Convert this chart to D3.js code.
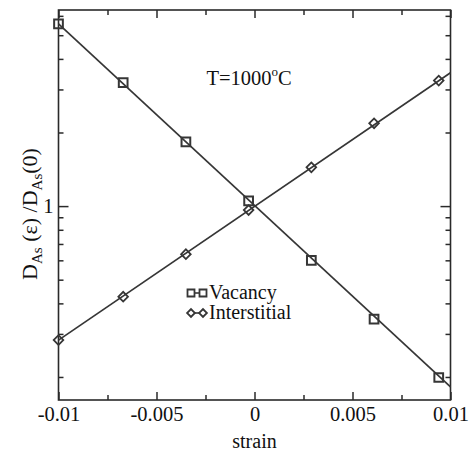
<!DOCTYPE html>
<html>
<head>
<meta charset="utf-8">
<script src="https://cdn.jsdelivr.net/npm/d3@7"></script>
</head>
<body style="margin:0; background:#ffffff">
<script>
// data
var strain = [-0.01, -0.0067, -0.0035, -0.0003, 0.0029, 0.0061, 0.0094];
var vacancy = [5.56, 3.20, 1.83, 1.05, 0.60, 0.345, 0.199];
var interstitial = [0.283, 0.426, 0.636, 0.963, 1.44, 2.18, 3.26];

// fitted straight lines (end values)
var fitStrain = [-0.01, 0.01];
var vacancyFit = [5.56, 0.182];
var interstitialFit = [0.283, 3.51];

var xTickValues = [-0.01, -0.005, 0, 0.005, 0.01];
var xTickLabels = ["-0.01", "-0.005", "0", "0.005", "0.01"];
var xMinorTicks = [-0.0075, -0.0025, 0.0025, 0.0075];
var yMajorTicks = [1];
var yTickLabels = ["1"];
var yMinorTicks = [0.2, 0.3, 0.4, 0.5, 0.6, 0.7, 0.8, 0.9, 2, 3, 4, 5, 6];

var seriesNames = ["Vacancy", "Interstitial"];

var WIDTH = 471, HEIGHT = 455;
var LINE_COLOR = "#363636";
var AXIS_COLOR = "#2a2a2a";
var TEXT_COLOR = "#111111";
var SERIF = "'Liberation Serif'";

var svg = d3.select("body").append("svg")
            .attr("width", WIDTH)
            .attr("height", HEIGHT);

svg.append("rect")
   .attr("width", WIDTH)
   .attr("height", HEIGHT)
   .style("fill", "#ffffff");

var x = d3.scaleLinear().domain([-0.01, 0.01]).range([58.5, 450.5]);
var y = d3.scaleLog().domain([0.161, 6.34]).range([400, 10]);

// minor / mirrored ticks
svg.append("g").attr("transform", "translate(0,400)")
   .call(d3.axisBottom(x).tickValues(xMinorTicks).tickSizeInner(-5).tickSizeOuter(0).tickFormat(""));
svg.append("g").attr("transform", "translate(0,10)")
   .call(d3.axisTop(x).tickValues(xMinorTicks).tickSizeInner(-5).tickSizeOuter(0).tickFormat(""));
svg.append("g").attr("transform", "translate(0,10)")
   .call(d3.axisTop(x).tickValues(xTickValues).tickSizeInner(-8).tickSizeOuter(0).tickFormat(""));
svg.append("g").attr("transform", "translate(58.5,0)")
   .call(d3.axisLeft(y).tickValues(yMinorTicks).tickSizeInner(-5).tickSizeOuter(0).tickFormat(""));
svg.append("g").attr("transform", "translate(450.5,0)")
   .call(d3.axisRight(y).tickValues(yMinorTicks).tickSizeInner(-5).tickSizeOuter(0).tickFormat(""));
svg.append("g").attr("transform", "translate(450.5,0)")
   .call(d3.axisRight(y).tickValues(yMajorTicks).tickSizeInner(-10).tickSizeOuter(0).tickFormat(""));

// labelled axes
svg.append("g").attr("transform", "translate(0,400)")
   .call(d3.axisBottom(x)
           .tickValues(xTickValues)
           .tickSizeInner(-8)
           .tickSizeOuter(0)
           .tickPadding(6)
           .tickFormat(function(d, i) { return xTickLabels[i]; }));

svg.append("g").attr("transform", "translate(58.5,0)")
   .call(d3.axisLeft(y)
           .tickValues(yMajorTicks)
           .tickSizeInner(-10)
           .tickSizeOuter(0)
           .tickPadding(5)
           .tickFormat(function(d, i) { return yTickLabels[i]; }));

svg.selectAll(".tick line").style("stroke", AXIS_COLOR).style("stroke-width", 1.5);
svg.selectAll(".domain").remove();
svg.selectAll(".tick text")
   .style("font-family", SERIF)
   .style("font-size", "20.5px")
   .style("fill", TEXT_COLOR);

// frame
svg.append("rect")
   .attr("x", x.range()[0])
   .attr("y", y.range()[1])
   .attr("width", x.range()[1] - x.range()[0])
   .attr("height", y.range()[0] - y.range()[1])
   .style("fill", "none")
   .style("stroke", AXIS_COLOR)
   .style("stroke-width", 1.6);

// lines
var line = d3.line()
             .x(function(d) { return x(d[0]); })
             .y(function(d) { return y(d[1]); });

svg.append("path")
   .datum(d3.zip(fitStrain, vacancyFit))
   .attr("d", line)
   .style("fill", "none")
   .style("stroke", LINE_COLOR)
   .style("stroke-width", 1.7);

svg.append("path")
   .datum(d3.zip(fitStrain, interstitialFit))
   .attr("d", line)
   .style("fill", "none")
   .style("stroke", LINE_COLOR)
   .style("stroke-width", 1.7);

// markers
var squareSym = d3.symbol().type(d3.symbolSquare).size(76);
var diamondSym = d3.symbol().type(d3.symbolSquare).size(46);

svg.selectAll(".vac_marker")
   .data(d3.zip(strain, vacancy))
   .enter().append("path")
   .attr("class", "vac_marker")
   .attr("d", squareSym)
   .attr("transform", function(d) { return "translate(" + x(d[0]) + "," + y(d[1]) + ")"; })
   .style("fill", "none")
   .style("stroke", LINE_COLOR)
   .style("stroke-width", 2);

svg.selectAll(".int_marker")
   .data(d3.zip(strain, interstitial))
   .enter().append("path")
   .attr("class", "int_marker")
   .attr("d", diamondSym)
   .attr("transform", function(d) { return "translate(" + x(d[0]) + "," + y(d[1]) + ") rotate(45)"; })
   .style("fill", "none")
   .style("stroke", LINE_COLOR)
   .style("stroke-width", 1.8);

// legend
var legend = svg.append("g").attr("transform", "translate(186,293)");
var legendSyms = [d3.symbol().type(d3.symbolSquare).size(49), d3.symbol().type(d3.symbolSquare).size(30)];
seriesNames.forEach(function(name, i)
{
  var row = legend.append("g").attr("transform", "translate(0," + (i * 20) + ")");
  row.append("line")
     .attr("x1", 5).attr("x2", 17).attr("y1", 0).attr("y2", 0)
     .style("stroke", LINE_COLOR)
     .style("stroke-width", 1.6);
  [5, 17].forEach(function(px)
  {
    row.append("path")
       .attr("d", legendSyms[i])
       .attr("transform", "translate(" + px + ",0)" + (i == 1 ? " rotate(45)" : ""))
       .style("fill", "#ffffff")
       .style("stroke", LINE_COLOR)
       .style("stroke-width", 1.8);
  });
  row.append("text")
     .attr("x", 23)
     .attr("y", 6)
     .style("font-family", SERIF)
     .style("font-size", "20px")
     .style("fill", TEXT_COLOR)
     .text(name);
});

// temperature note
var note = svg.append("text")
              .attr("x", 206.5)
              .attr("y", 85)
              .style("font-family", SERIF)
              .style("font-size", "20.5px")
              .style("fill", TEXT_COLOR);
note.append("tspan").text("T=1000");
note.append("tspan").attr("dy", -9).style("font-size", "13px").text("o");
note.append("tspan").attr("dy", 9).text("C");

// axis titles
svg.append("text")
   .attr("x", 254.5)
   .attr("y", 448)
   .attr("text-anchor", "middle")
   .style("font-family", SERIF)
   .style("font-size", "20px")
   .style("fill", TEXT_COLOR)
   .text("strain");

var yTitle = svg.append("text")
                .attr("transform", "translate(37,214) rotate(-90)")
                .attr("text-anchor", "middle")
                .style("font-family", SERIF)
                .style("font-size", "22px")
                .style("fill", TEXT_COLOR);
yTitle.append("tspan").text("D");
yTitle.append("tspan").attr("dy", 5).style("font-size", "15px").text("As");
yTitle.append("tspan").attr("dy", -5).text(" (\u03B5) /D");
yTitle.append("tspan").attr("dy", 5).style("font-size", "15px").text("As");
yTitle.append("tspan").attr("dy", -5).text("(0)");
</script>
</body>
</html>
